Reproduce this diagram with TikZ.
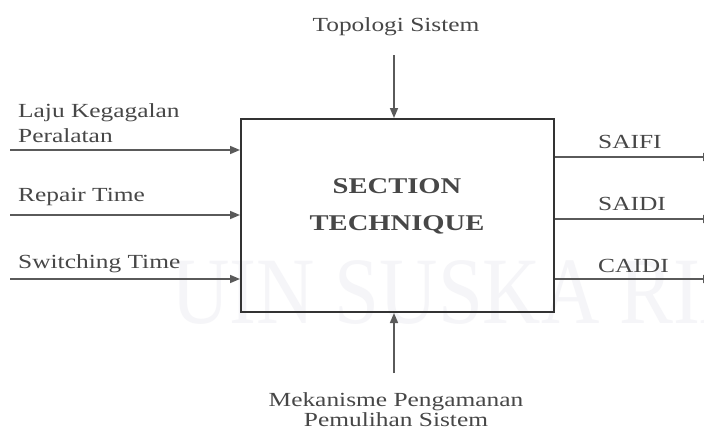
\documentclass[tikz,border=0pt]{standalone}
\usepackage{fontspec}
\setmainfont{Liberation Serif}[FakeStretch=1.27]
\newfontfamily\markfont{Liberation Serif}
\usetikzlibrary{arrows.meta}
\definecolor{ink}{HTML}{474747}
\definecolor{wire}{HTML}{5A5A5A}
\definecolor{frame}{HTML}{333333}
\definecolor{mark}{HTML}{F5F5F8}
\tikzset{
  lbl/.style={inner sep=0pt, text=ink, font=\fontsize{20}{24}\selectfont},
  title/.style={inner sep=0pt, text=ink, font=\fontsize{22.5}{26}\selectfont\bfseries},
  flow/.style={draw=wire, line width=1.6pt, -{Triangle[length=10pt,width=8pt]}},
  block/.style={draw=frame, line width=2pt, inner sep=0pt, fill=none}
}
\begin{document}
\begin{tikzpicture}[x=1pt,y=-1pt]
  \useasboundingbox (0,0) rectangle (704,429);
  \fill[white] (0,0) rectangle (704,429);

  % faint background lettering
  \node[inner sep=0pt, anchor=base west, text=mark, xscale=0.85, transform shape,
        font=\markfont\fontsize{95}{100}\selectfont] (wm) at (171,323) {UIN SUSKA RIAU};

  % central block
  \node[block, minimum width=313pt, minimum height=193pt, anchor=north west] (box) at (240,118) {};
  \node[title, anchor=base] (sec) at (397,193) {SECTION};
  \node[title, anchor=base] (tech) at (397,230) {TECHNIQUE};

  % control from above
  \node[lbl, anchor=base] (topo) at (396,31) {Topologi Sistem};
  \coordinate (ctop) at (394,55);
  \draw[flow] (ctop) -- (box.north -| ctop);

  % mechanism from below
  \node[lbl, anchor=base] (mek) at (396,406) {Mekanisme Pengamanan};
  \node[lbl, anchor=base] (pem) at (396,426) {Pemulihan Sistem};
  \coordinate (cbot) at (394,373);
  \draw[flow] (cbot) -- (box.south -| cbot);

  % inputs
  \node[lbl, anchor=base west] (laju) at (18,117) {Laju Kegagalan};
  \node[lbl, anchor=base west] (peral) at (18,142) {Peralatan};
  \node[lbl, anchor=base west] (rep) at (18,201) {Repair Time};
  \node[lbl, anchor=base west] (sw) at (18,268) {Switching Time};
  \coordinate (i1) at (10,150);
  \coordinate (i2) at (10,215);
  \coordinate (i3) at (10,279);
  \draw[flow] (i1) -- (box.west |- i1);
  \draw[flow] (i2) -- (box.west |- i2);
  \draw[flow] (i3) -- (box.west |- i3);

  % outputs
  \node[lbl, anchor=base west] (saifi) at (598,148) {SAIFI};
  \node[lbl, anchor=base west] (saidi) at (598,210) {SAIDI};
  \node[lbl, anchor=base west] (caidi) at (598,272) {CAIDI};
  \coordinate (o1) at (713,157);
  \coordinate (o2) at (713,219);
  \coordinate (o3) at (713,279);
  \draw[flow] (box.east |- o1) -- (o1);
  \draw[flow] (box.east |- o2) -- (o2);
  \draw[flow] (box.east |- o3) -- (o3);
\end{tikzpicture}
\end{document}
